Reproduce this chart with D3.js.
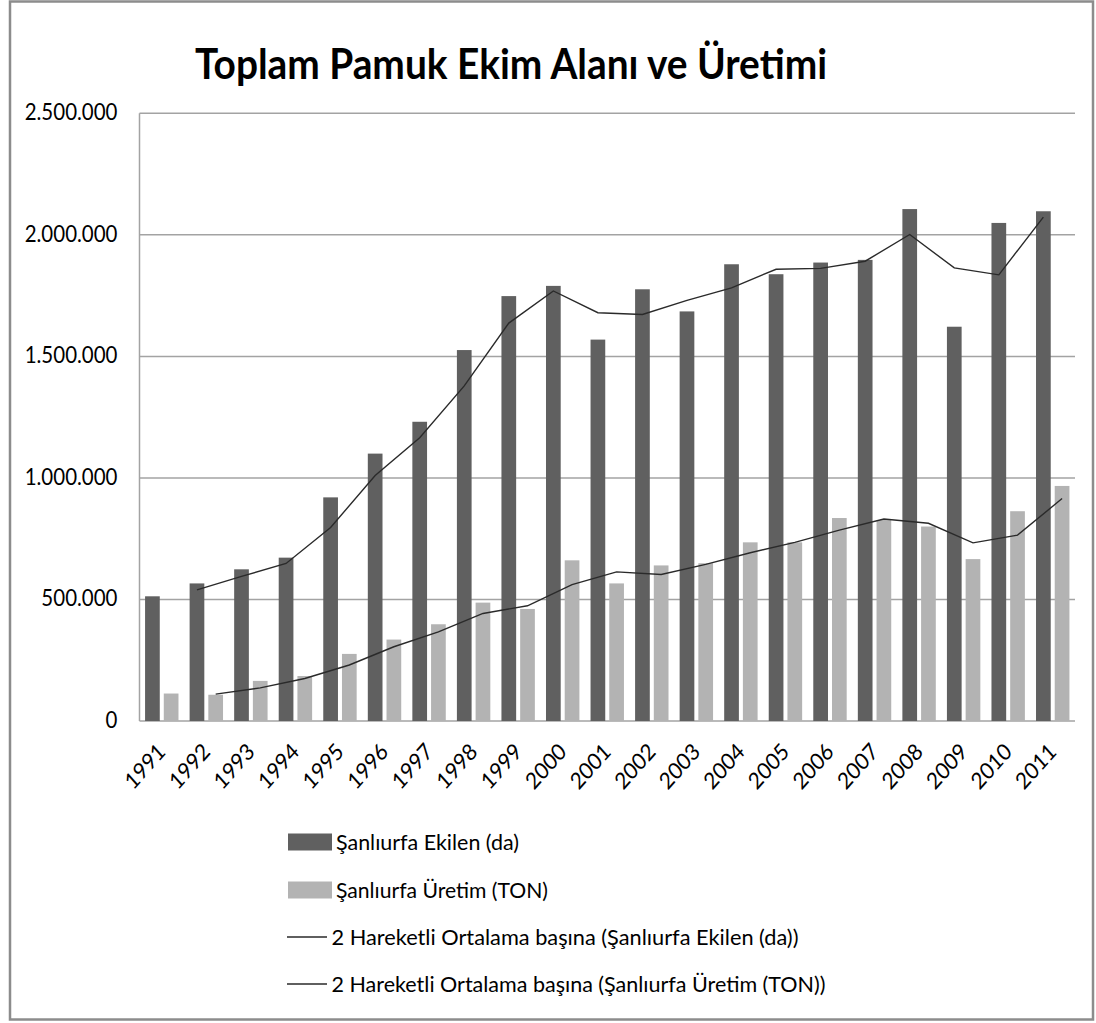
<!DOCTYPE html>
<html>
<head>
<meta charset="utf-8">
<script src="https://cdn.jsdelivr.net/npm/d3@7"></script>
<style>
  html, body { margin: 0; padding: 0; background: #fff; }
  svg { display: block; }
  text { font-family: Lato, "Open Sans", "Noto Sans", sans-serif; fill: #000; }
</style>
</head>
<body>
<svg id="chart" width="1096" height="1023"></svg>
<script>
// ---------- data ----------
const years = ["1991","1992","1993","1994","1995","1996","1997","1998","1999","2000","2001","2002","2003","2004","2005","2006","2007","2008","2009","2010","2011"];
const ekilen = [513000, 566000, 624000, 672000, 920000, 1100000, 1231000, 1526000, 1748000, 1790000, 1569000, 1776000, 1685000, 1879000, 1838000, 1886000, 1897000, 2106000, 1622000, 2049000, 2097000];
const uretim = [113000, 108000, 165000, 185000, 276000, 335000, 398000, 487000, 461000, 661000, 566000, 640000, 649000, 735000, 735000, 835000, 827000, 800000, 666000, 863000, 967000];
const yTicks = [0, 500000, 1000000, 1500000, 2000000, 2500000];
const titleText = "Toplam Pamuk Ekim Alanı ve Üretimi";
const legendLabels = [
  "Şanlıurfa Ekilen (da)",
  "Şanlıurfa Üretim (TON)",
  "2 Hareketli Ortalama başına (Şanlıurfa Ekilen (da))",
  "2 Hareketli Ortalama başına (Şanlıurfa Üretim (TON))"
];

// ---------- layout ----------
const SY = 1.12; // vertical stretch of the text in the reference
const DARK = "#606060", LIGHT = "#b3b3b3", GRID = "#a3a3a3", LINE = "#2a2a2a";
const svg = d3.select("#chart");
const plot = { left: 139.5, right: 1075, top: 113.3, bottom: 721 };

const x = d3.scaleBand().domain(years).range([plot.left, plot.right]).paddingInner(0).paddingOuter(0);
const bw = x.bandwidth();
const barW = bw * 0.33, pad = bw * 0.125, gapW = bw * 0.09;
const y = d3.scaleLinear().domain([0, 2500000]).range([plot.bottom, plot.top]);
const fmt = d3.formatLocale({ decimal: ",", thousands: ".", grouping: [3], currency: ["", ""] }).format(",d");

function stretchedText(parent, px, py, str, opts = {}) {
  const g = parent.append("g")
    .attr("transform", `translate(${px},${py})` + (opts.rotate ? ` scale(1,${SY}) rotate(${opts.rotate})` : ` scale(1,${SY})`));
  const t = g.append("text")
    .attr("x", 0).attr("y", 0)
    .attr("font-size", opts.size || 19)
    .attr("font-weight", opts.weight || "normal")
    .attr("text-anchor", opts.anchor || "start")
    .text(str);
  if (opts.width) t.attr("textLength", opts.width).attr("lengthAdjust", "spacingAndGlyphs");
  return t;
}

// outer frame
svg.append("rect").attr("x", 10).attr("y", 1.5).attr("width", 1083).attr("height", 1018)
  .attr("fill", "#fff").attr("stroke", "#8c8c8c").attr("stroke-width", 2.5);

// title
stretchedText(svg, 195, 79.3, titleText, { size: 37.5, weight: "bold", width: 632 });

// gridlines
svg.append("g").selectAll("line").data(yTicks).join("line")
  .attr("x1", plot.left).attr("x2", plot.right)
  .attr("y1", d => y(d)).attr("y2", d => y(d))
  .attr("stroke", GRID).attr("stroke-width", 1.5);
// left axis line
svg.append("line").attr("x1", plot.left).attr("x2", plot.left)
  .attr("y1", plot.top).attr("y2", plot.bottom)
  .attr("stroke", GRID).attr("stroke-width", 1.5);

// y tick labels
const yl = svg.append("g");
yTicks.forEach(t => stretchedText(yl, 117.5, y(t) + 7, fmt(t), { anchor: "end", size: 20.5 }));

// bars
svg.append("g").selectAll("rect").data(years).join("rect")
  .attr("x", d => x(d) + pad).attr("width", barW)
  .attr("y", (d, i) => y(ekilen[i])).attr("height", (d, i) => y(0) - y(ekilen[i]))
  .attr("fill", DARK);
svg.append("g").selectAll("rect").data(years).join("rect")
  .attr("x", d => x(d) + pad + barW + gapW).attr("width", barW)
  .attr("y", (d, i) => y(uretim[i])).attr("height", (d, i) => y(0) - y(uretim[i]))
  .attr("fill", LIGHT);

// 2-period moving averages (trendlines), drawn at each series' bar centre
function movingAvg(arr) { return arr.map((v, i) => i === 0 ? null : (arr[i - 1] + v) / 2); }
const maE = movingAvg(ekilen), maU = movingAvg(uretim);
const lineGen = d3.line().defined(d => d.v !== null).x(d => d.x).y(d => y(d.v));
svg.append("path")
  .datum(years.map((yr, i) => ({ x: x(yr) + pad + barW / 2, v: maE[i] })))
  .attr("d", lineGen).attr("fill", "none").attr("stroke", LINE).attr("stroke-width", 1.4);
svg.append("path")
  .datum(years.map((yr, i) => ({ x: x(yr) + pad + barW + gapW + barW / 2, v: maU[i] })))
  .attr("d", lineGen).attr("fill", "none").attr("stroke", LINE).attr("stroke-width", 1.4);

// x tick labels
const xl = svg.append("g");
years.forEach(yr => stretchedText(xl, x(yr) + bw / 2 + 5, 753, yr, { anchor: "end", size: 20.5, rotate: -45 }));

// legend
const legRows = [842, 890, 937, 984];
const legWidths = [183, 212, 467, 494];
const lg = svg.append("g");
legRows.forEach((cy, i) => {
  if (i < 2) {
    lg.append("rect").attr("x", 288).attr("y", cy - 8.5).attr("width", 44).attr("height", 17)
      .attr("fill", i === 0 ? DARK : LIGHT);
    stretchedText(lg, 336, cy + 7.5, legendLabels[i], { size: 19, width: legWidths[i] });
  } else {
    lg.append("line").attr("x1", 287).attr("x2", 327).attr("y1", cy).attr("y2", cy)
      .attr("stroke", LINE).attr("stroke-width", 1.4);
    stretchedText(lg, 331.5, cy + 7.5, legendLabels[i], { size: 19, width: legWidths[i] });
  }
});
</script>
</body>
</html>
